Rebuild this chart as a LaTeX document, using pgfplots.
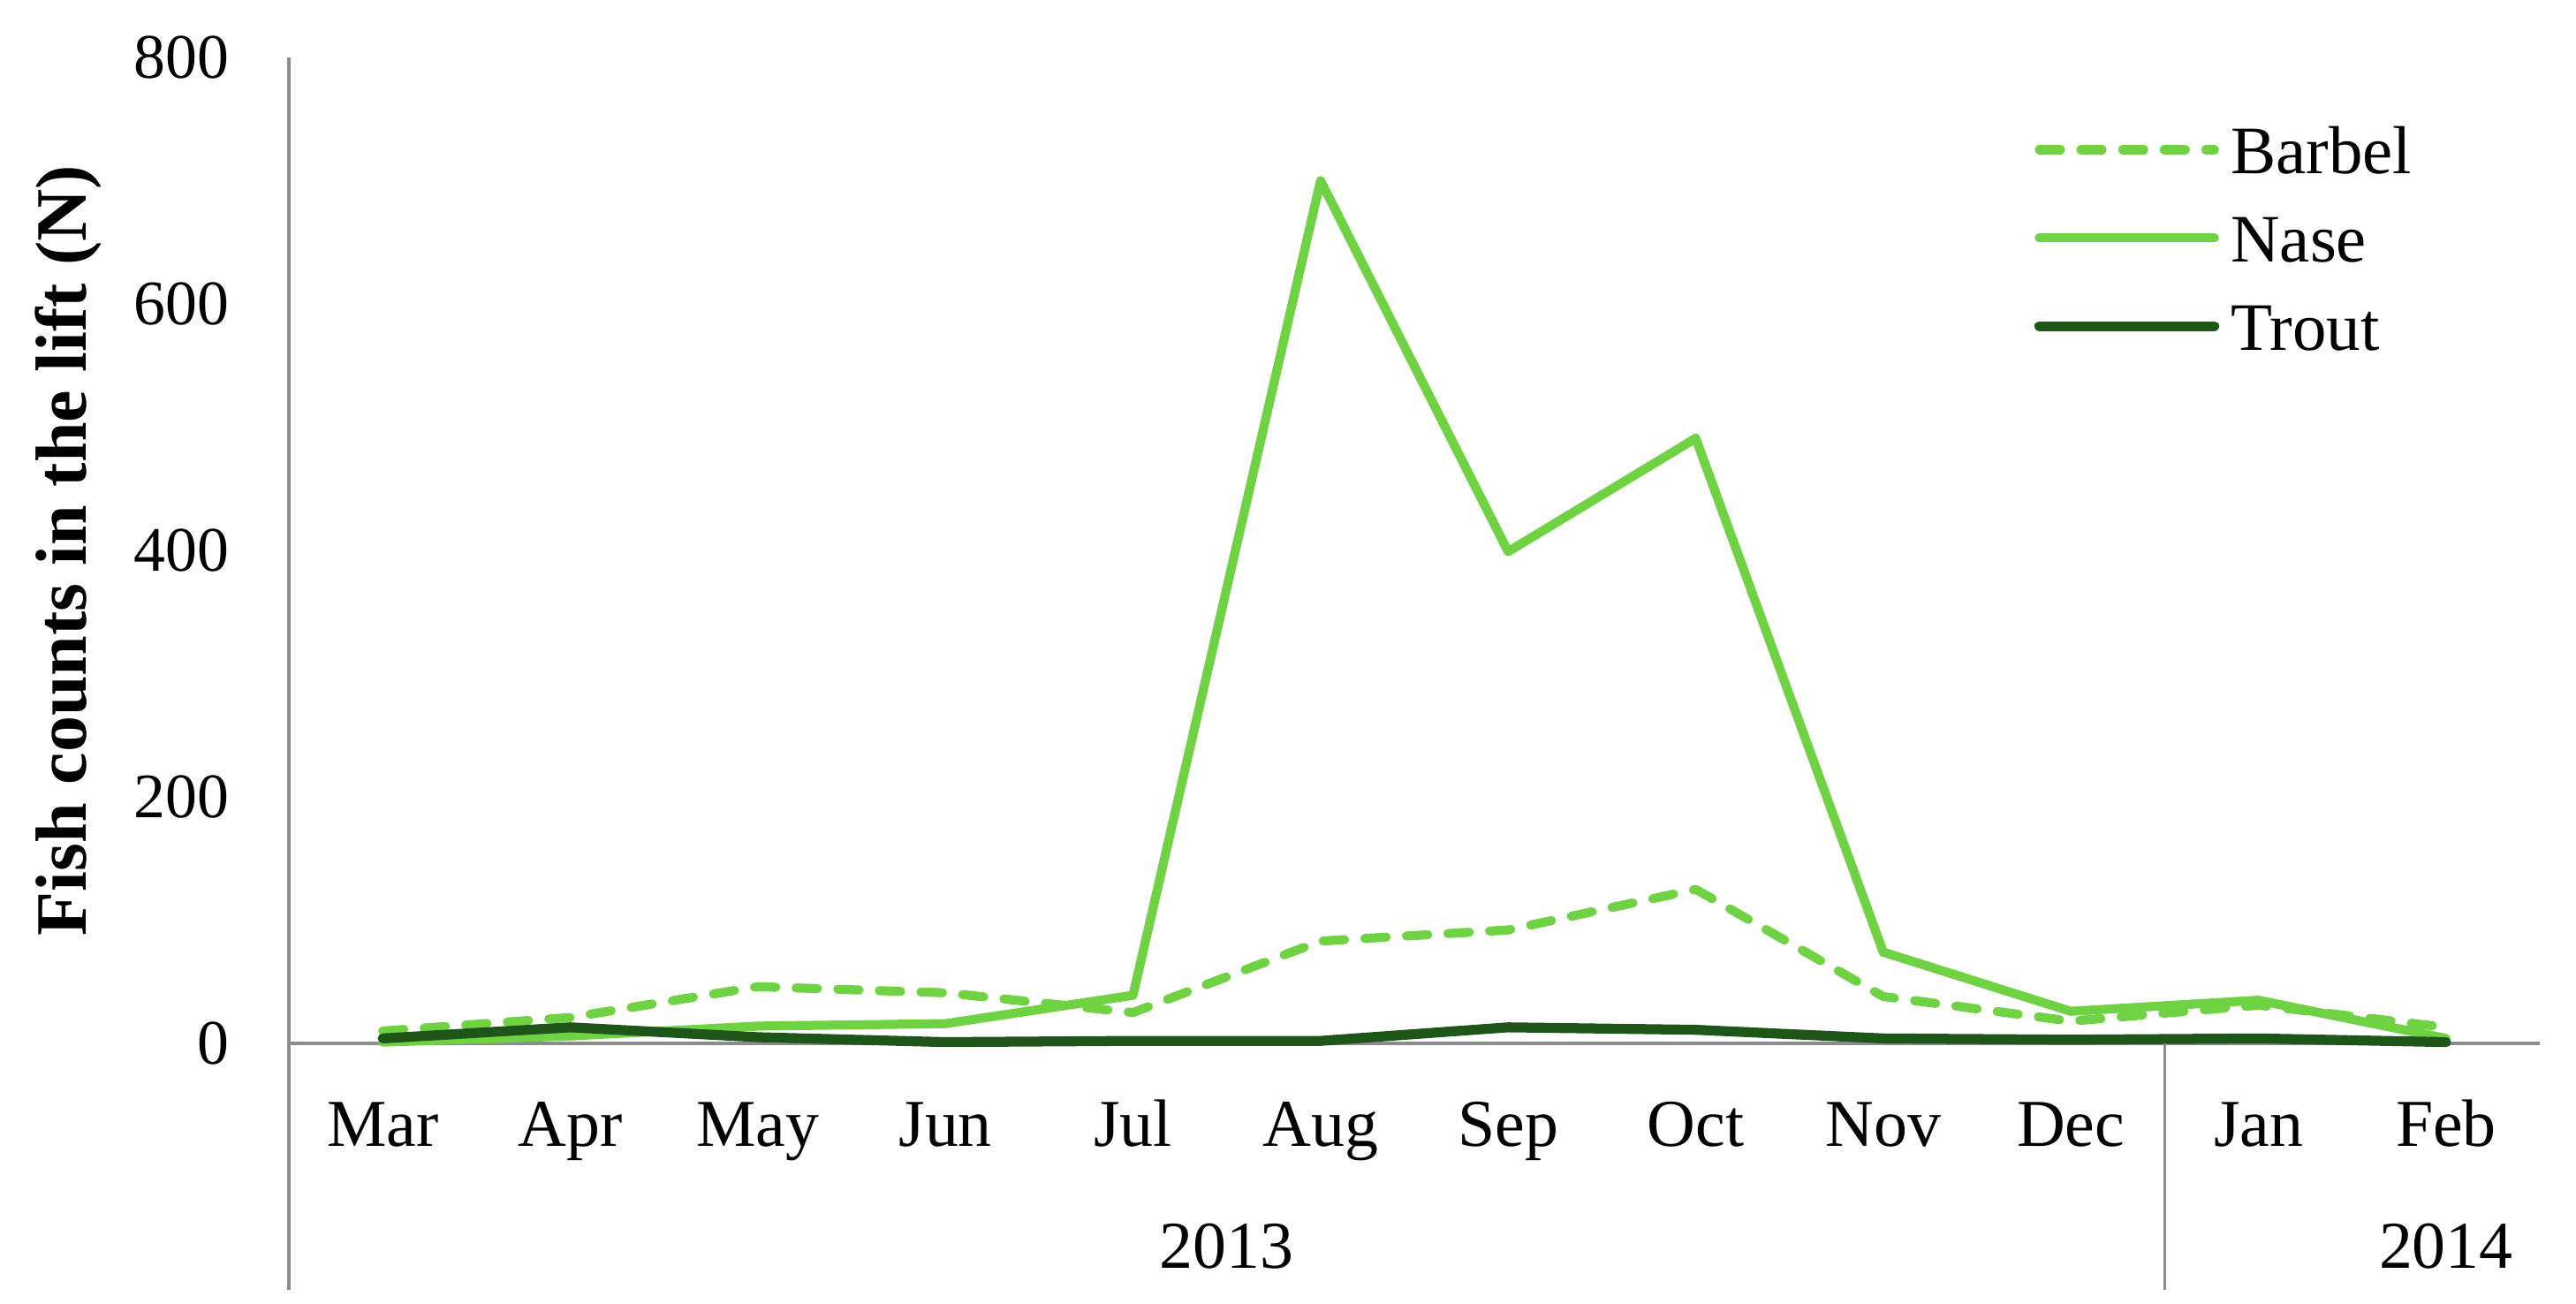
\documentclass[border=0pt]{standalone}
\usepackage{fontspec}
\setmainfont{Liberation Serif}
\usepackage{pgfplots}
\pgfplotsset{compat=1.18}

\definecolor{lgreen}{RGB}{110,210,66}
\definecolor{dgreen}{RGB}{30,86,26}
\definecolor{axgray}{RGB}{140,140,140}

\begin{document}
\begin{tikzpicture}
\begin{axis}[
  at={(0,0)}, anchor=south west,
  scale only axis,
  width=17.476cm, height=7.654cm,
  xmin=-0.5, xmax=11.5, ymin=0, ymax=800,
  axis lines=left,
  axis line style={-, axgray, line width=0.8pt},
  major tick length=0pt,
  xtick={0,...,11},
  xticklabels={Mar,Apr,May,Jun,Jul,Aug,Sep,Oct,Nov,Dec,Jan,Feb},
  ytick={0,200,400,600,800},
  /pgf/number format/assume math mode=true,
  xticklabel style={anchor=base, inner sep=0pt, yshift=-0.796cm, font=\fontsize{14.8}{17}\selectfont},
  yticklabel style={anchor=east, inner sep=0pt, xshift=-0.46cm, font=\fontsize{14}{17}\selectfont},
  ylabel={Fish counts in the lift (N)},
  ylabel style={at={(axis description cs:-0.0979,0.5)}, anchor=center, inner sep=0pt,
    font=\bfseries\fontsize{16}{19}\selectfont},
  clip=false,
  legend cell align=left,
  legend image code/.code={\draw[#1] (0cm,0.1cm) -- (1.36cm,0.1cm);},
  legend style={at={(rel axis cs:0.775,0.915)}, anchor=north west, draw=none, fill=none,
    inner sep=0pt, row sep=10.5pt, column sep=0.09cm,
    font=\fontsize{15}{17}\selectfont,
    nodes={inner sep=0pt, text height=0.7em, text depth=0.2em}},
  every axis plot/.append style={line join=round, line cap=round},
]
% Barbel
\addplot[lgreen, line width=2pt, dash pattern=on 4.7pt off 4.5pt] coordinates {
  (0,10) (1,21) (2,46) (3,41) (4,25) (5,83) (6,92) (7,125) (8,38) (9,18) (10,31) (11,13)};
\addlegendentry{Barbel}
% Nase
\addplot[lgreen, line width=2pt] coordinates {
  (0,1) (1,6) (2,14) (3,16) (4,39) (5,700) (6,399) (7,491) (8,74) (9,26) (10,35) (11,4)};
\addlegendentry{Nase}
% Trout
\addplot[dgreen, line width=2.2pt] coordinates {
  (0,4) (1,13) (2,5) (3,1) (4,2) (5,2) (6,13) (7,11) (8,4) (9,3) (10,4) (11,1)};
\addlegendentry{Trout}

\draw[axgray, line width=0.8pt] (axis cs:-0.5,0) -- ([yshift=-1.913cm]axis cs:-0.5,0);
\draw[axgray, line width=0.6pt] (axis cs:9.5,0) -- ([yshift=-1.913cm]axis cs:9.5,0);
\node[anchor=base, inner sep=0pt, yshift=-1.749cm, font=\fontsize{14.8}{17}\selectfont] at (axis cs:4.5,0) {2013};
\node[anchor=base, inner sep=0pt, yshift=-1.749cm, font=\fontsize{14.8}{17}\selectfont] at (axis cs:11,0) {2014};
\end{axis}
\pgfresetboundingbox
\path[use as bounding box] (-2.243,-2.023) rectangle (17.757,8.100);
\end{tikzpicture}
\end{document}
